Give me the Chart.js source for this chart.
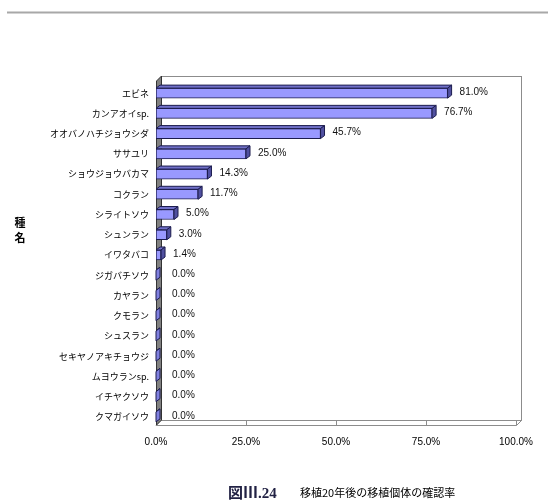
<!DOCTYPE html>
<html><head><meta charset="utf-8">
<script src="https://cdn.jsdelivr.net/npm/chart.js@4/dist/chart.umd.min.js"></script>
<style>html,body{margin:0;padding:0;background:#fff;}canvas{display:block;}</style>
</head><body>
<canvas id="c" width="548" height="504"></canvas>
<script>
const categories = ['エビネ','カンアオイsp.','オオバノハチジョウシダ','ササユリ','ショウジョウバカマ','コクラン','シライトソウ','シュンラン','イワタバコ','ジガバチソウ','カヤラン','クモラン','シュスラン','セキヤノアキチョウジ','ムヨウランsp.','イチヤクソウ','クマガイソウ'];
const rates = [81.0, 76.7, 45.7, 25.0, 14.3, 11.7, 5.0, 3.0, 1.4, 0, 0, 0, 0, 0, 0, 0, 0];
const xTicks = [0, 25, 50, 75, 100];
const axisTitleChars = ['種', '名'];
const figLabel = '図Ⅲ.24';
const figTitle = '移植20年後の移植個体の確認率';

const D = 5;   // wall depth
const BD = 4;  // bar depth
const SH = 2;  // wall offset relative to chart area

const deco = {
  id: 'deco',
  beforeDraw(chart) {
    const ctx = chart.ctx;
    ctx.save();
    ctx.fillStyle = '#fff';
    ctx.fillRect(0, 0, chart.width, chart.height);
    ctx.strokeStyle = '#a8a8a8';
    ctx.lineWidth = 2;
    ctx.beginPath(); ctx.moveTo(7, 12.5); ctx.lineTo(548, 12.5); ctx.stroke();
    ctx.restore();
  },
  beforeDatasetsDraw(chart) {
    const ctx = chart.ctx, a = chart.chartArea, xs = chart.scales.x;
    const L = a.left, R = a.right, T = a.top - SH, B = a.bottom - SH;
    ctx.save();
    ctx.lineWidth = 1;
    ctx.strokeStyle = '#8c8c8c';
    ctx.strokeRect(L + D + 0.5, T - D + 0.5, R - L, B - T);
    ctx.fillStyle = '#fff';
    ctx.beginPath();
    ctx.moveTo(L, B + 0.5); ctx.lineTo(L + D, B - D + 0.5); ctx.lineTo(R + D + 0.5, B - D + 0.5); ctx.lineTo(R + 0.5, B + 0.5); ctx.closePath();
    ctx.fill(); ctx.stroke();
    xTicks.forEach(v => {
      const px = Math.round(xs.getPixelForValue(v)) + 0.5;
      ctx.beginPath(); ctx.moveTo(px, B - 5); ctx.lineTo(px, B + 0.5); ctx.stroke();
    });
    ctx.fillStyle = '#808080';
    ctx.strokeStyle = '#333';
    ctx.beginPath();
    ctx.moveTo(L + 0.5, T); ctx.lineTo(L + D + 0.5, T - D); ctx.lineTo(L + D + 0.5, B - D); ctx.lineTo(L + 0.5, B); ctx.closePath();
    ctx.fill(); ctx.stroke();
    ctx.restore();
  },
  afterDatasetsDraw(chart) {
    const ctx = chart.ctx;
    const meta = chart.getDatasetMeta(0);
    ctx.save();
    ctx.lineWidth = 1;
    ctx.strokeStyle = '#1c1c4e';
    meta.data.forEach((el, i) => {
      const p = el.getProps(['x', 'y', 'base', 'height'], true);
      const x0 = p.base, x1 = p.x, top = p.y - p.height / 2, bot = p.y + p.height / 2;
      ctx.fillStyle = '#7070c8';
      ctx.beginPath();
      ctx.moveTo(x0, top); ctx.lineTo(x0 + BD, top - BD + 1); ctx.lineTo(x1 + BD, top - BD + 1); ctx.lineTo(x1, top); ctx.closePath();
      ctx.fill(); ctx.stroke();
      ctx.fillStyle = rates[i] === 0 ? '#8080e0' : '#5050a0';
      ctx.beginPath();
      ctx.moveTo(x1, top); ctx.lineTo(x1 + BD, top - BD + 1); ctx.lineTo(x1 + BD, bot - BD + 1); ctx.lineTo(x1, bot); ctx.closePath();
      ctx.fill(); ctx.stroke();
      ctx.fillStyle = '#111';
      ctx.font = '10px "Liberation Sans", Arial, sans-serif';
      ctx.textAlign = 'left';
      ctx.textBaseline = 'middle';
      ctx.fillText(rates[i].toFixed(1) + '%', x1 + BD + (rates[i] === 0 ? 12 : 8), p.y - 1);
    });
    ctx.restore();
  },
  afterDraw(chart) {
    const ctx = chart.ctx;
    ctx.save();
    ctx.fillStyle = '#000';
    ctx.textAlign = 'center';
    ctx.textBaseline = 'middle';
    ctx.font = 'bold 11px "Noto Sans CJK JP", sans-serif';
    axisTitleChars.forEach((ch, k) => ctx.fillText(ch, 20, 223 + k * 15));
    ctx.textAlign = 'left';
    ctx.fillStyle = '#222244';
    ctx.font = 'bold 15px "Liberation Serif", "Noto Sans CJK JP", serif';
    ctx.fillText(figLabel, 228, 494);
    ctx.fillStyle = '#000';
    ctx.font = '11px "Noto Sans CJK JP", sans-serif';
    ctx.fillText(figTitle, 300, 493);
    ctx.restore();
  }
};

new Chart(document.getElementById('c'), {
  type: 'bar',
  data: {
    labels: categories,
    datasets: [{
      data: rates,
      backgroundColor: '#9999ff',
      borderColor: '#1c1c4e',
      borderWidth: 1,
      borderSkipped: false,
      barThickness: 10
    }]
  },
  options: {
    indexAxis: 'y',
    responsive: false,
    animation: false,
    layout: { padding: { top: 83, right: 32, left: 0, bottom: 0 } },
    plugins: { legend: { display: false }, tooltip: { enabled: false } },
    scales: {
      x: {
        type: 'linear', min: 0, max: 100,
        afterBuildTicks: s => { s.ticks = xTicks.map(v => ({ value: v })); },
        afterFit: s => { s.height = 77; },
        grid: { display: false, drawTicks: false },
        border: { display: false },
        ticks: {
          padding: 9,
          color: '#000',
          font: { family: '"Liberation Sans", Arial, sans-serif', size: 10 },
          callback: v => Number(v).toFixed(1) + '%',
          maxRotation: 0
        }
      },
      y: {
        afterFit: s => { s.width = 156; },
        grid: { display: false, drawTicks: false },
        border: { display: false },
        ticks: {
          padding: 7,
          color: '#000',
          font: { family: '"Noto Sans CJK JP", sans-serif', size: 9 },
          autoSkip: false
        }
      }
    }
  },
  plugins: [deco]
});
</script>
</body></html>
